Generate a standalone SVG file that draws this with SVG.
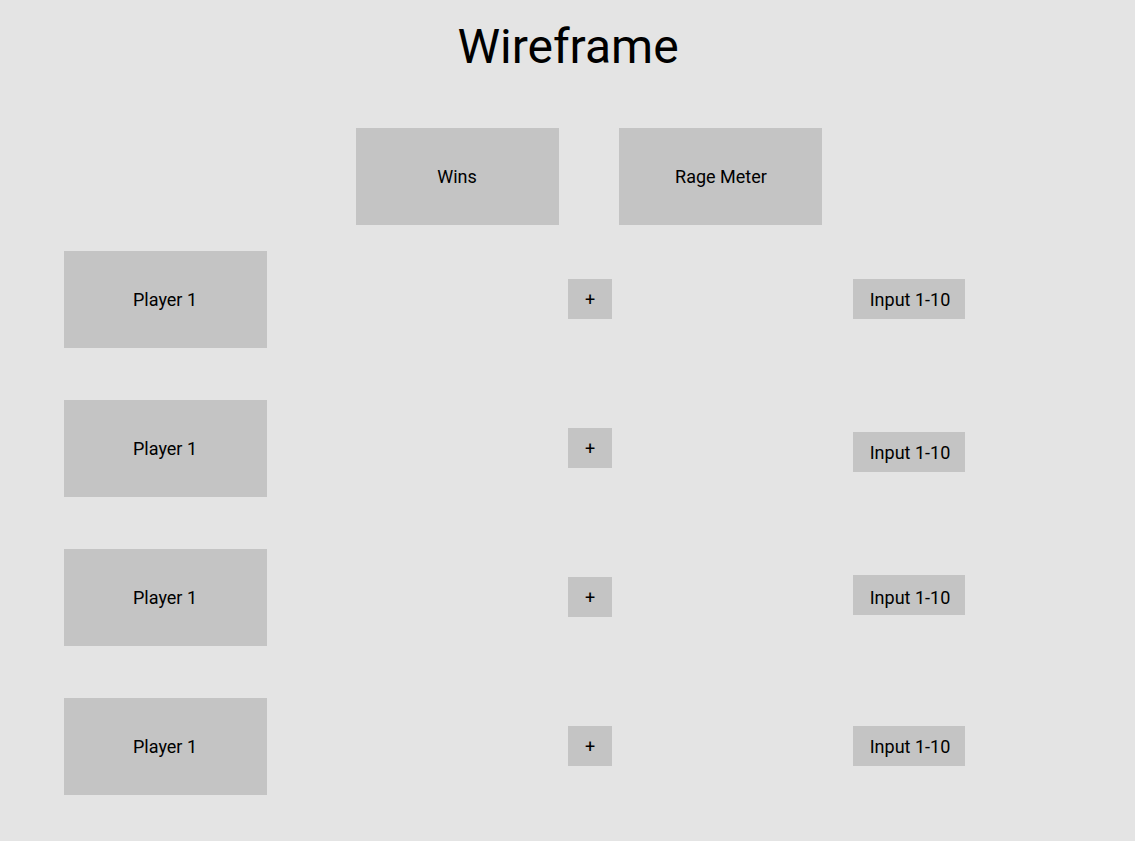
<svg xmlns="http://www.w3.org/2000/svg" width="1135" height="841" viewBox="0 0 1135 841">
  <style>
    .box { fill: #c4c4c4; }
    .lbl { font-family: Roboto, "Liberation Sans", sans-serif; font-size: 18px; fill: #000; text-anchor: middle; dominant-baseline: central; }
    .title { font-family: Roboto, "Liberation Sans", sans-serif; font-size: 48px; fill: #000; text-anchor: middle; }
  </style>
  <rect width="1135" height="841" fill="#e4e4e4"/>
  <text class="title" x="568" y="63">Wireframe</text>

  <g id="wins"><rect class="box" x="356" y="128" width="203" height="97"/><text class="lbl" x="457" y="176">Wins</text></g>
  <g id="rage-meter"><rect class="box" x="619" y="128" width="203" height="97"/><text class="lbl" x="721" y="176">Rage Meter</text></g>

  <g id="player-row1"><rect class="box" x="64" y="251" width="203" height="97"/><text class="lbl" x="165" y="299">Player 1</text></g>
  <g id="plus-row1"><rect class="box" x="568" y="279" width="44" height="40"/><text class="lbl" x="590" y="299">+</text></g>
  <g id="input-row1"><rect class="box" x="853" y="279" width="112" height="40"/><text class="lbl" x="910" y="299">Input 1-10</text></g>

  <g id="player-row2"><rect class="box" x="64" y="400" width="203" height="97"/><text class="lbl" x="165" y="448">Player 1</text></g>
  <g id="plus-row2"><rect class="box" x="568" y="428" width="44" height="40"/><text class="lbl" x="590" y="448">+</text></g>
  <g id="input-row2"><rect class="box" x="853" y="432" width="112" height="40"/><text class="lbl" x="910" y="452">Input 1-10</text></g>

  <g id="player-row3"><rect class="box" x="64" y="549" width="203" height="97"/><text class="lbl" x="165" y="597">Player 1</text></g>
  <g id="plus-row3"><rect class="box" x="568" y="577" width="44" height="40"/><text class="lbl" x="590" y="597">+</text></g>
  <g id="input-row3"><rect class="box" x="853" y="575" width="112" height="40"/><text class="lbl" x="910" y="597">Input 1-10</text></g>

  <g id="player-row4"><rect class="box" x="64" y="698" width="203" height="97"/><text class="lbl" x="165" y="746">Player 1</text></g>
  <g id="plus-row4"><rect class="box" x="568" y="726" width="44" height="40"/><text class="lbl" x="590" y="746">+</text></g>
  <g id="input-row4"><rect class="box" x="853" y="726" width="112" height="40"/><text class="lbl" x="910" y="746">Input 1-10</text></g>
</svg>
